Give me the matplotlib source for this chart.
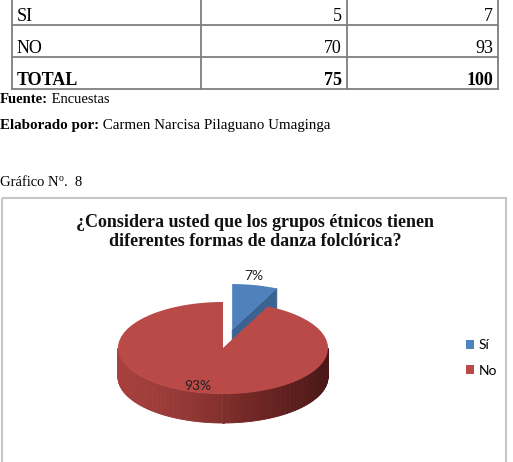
import numpy as np
import matplotlib.pyplot as plt
from matplotlib.patches import Polygon, Rectangle
from matplotlib.colors import LinearSegmentedColormap

# Datos de la tabla y del grafico
categorias = ['SI', 'NO', 'TOTAL']
frecuencia = [5, 70, 75]
porcentaje = [7, 93, 100]
leyenda = ['Sí', 'No']
valores = [7, 93]
titulo = '¿Considera usted que los grupos étnicos tienen\ndiferentes formas de danza folclórica?'

W, H = 513, 462
serif = 'Liberation Serif'
sans = 'Lato'

fig = plt.figure(figsize=(W / 100, H / 100), dpi=100)
bg = fig.add_axes([0, 0, 1, 1])
bg.set_xlim(0, W)
bg.set_ylim(H, 0)
bg.axis('off')
rend = fig.canvas.get_renderer()


def texto_partes(x, y, partes, **kw):
    # escribe varios trozos seguidos (negrita, normal, superindice)
    for txt, extra in partes:
        extra = dict(extra)
        dy = extra.pop('dy', 0)
        opts = {**kw, **extra}
        t = bg.text(x, y - dy, txt, **opts)
        x += t.get_window_extent(renderer=rend).width


# --- tabla (cortada arriba) ---
col_x = [12, 201, 347, 498]
fila_y = [-5, 25, 57, 89]
gris = '#7f7f7f'
for xv in col_x:
    bg.plot([xv, xv], [fila_y[0], fila_y[-1]], color=gris, lw=1.3)
for yv in fila_y[1:]:
    bg.plot([col_x[0], col_x[-1]], [yv, yv], color=gris, lw=1.3)

for i, (cat, f, p) in enumerate(zip(categorias, frecuencia, porcentaje)):
    yb = fila_y[i + 1] - 4
    w = 'bold' if cat == 'TOTAL' else 'normal'
    bg.text(17, yb, cat, family=serif, fontsize=13, weight=w, va='baseline')
    bg.text(col_x[2] - 5, yb, str(f), family=serif, fontsize=13, weight=w,
            va='baseline', ha='right')
    bg.text(col_x[3] - 5, yb, str(p), family=serif, fontsize=13, weight=w,
            va='baseline', ha='right')

texto_partes(0, 103, [('Fuente:', {'weight': 'bold'}), (' Encuestas', {})],
             family=serif, fontsize=10.5, va='baseline')
texto_partes(0, 129, [('Elaborado por:', {'weight': 'bold'}),
                      (' Carmen Narcisa Pilaguano Umaginga', {})],
             family=serif, fontsize=10.8, va='baseline')
texto_partes(0, 186, [('Gráfico N', {}), ('o', {'fontsize': 7, 'dy': 5}),
                      ('.  8', {})],
             family=serif, fontsize=10.5, va='baseline')

# --- marco del grafico ---
bg.add_patch(Rectangle((2, 198), 504, 280, fill=False, ec='#c6c6c6', lw=1.5))
bg.text(255, 232, titulo, ha='center', va='center', family=serif,
        fontsize=13, weight='bold', linespacing=1.1, color='#111111')

# --- pastel 3D ---
cx, cy = 223, 348
rx, ry = 105, 46
prof = 29 / ry
pax = fig.add_axes([(cx - 2 * rx) / W, (H - cy - 2 * ry) / H, 4 * rx / W, 4 * ry / H])
colores = ['#4F81BD', '#BA4A47']
explode = [0.4, 0]
wedges, _ = pax.pie(valores, colors=colores, startangle=90, counterclock=False,
                    explode=explode, wedgeprops={'linewidth': 0})
pax.set_aspect('auto')
pax.set_xlim(-2, 2)
pax.set_ylim(-2, 2)
pax.axis('off')

fr = np.array(valores) / sum(valores)
fin = 90 - 360 * np.cumsum(fr)
ini = np.r_[90, fin[:-1]]
medio = np.radians((ini + fin) / 2)

# cara de corte azul
bx, by = explode[0] * np.cos(medio[0]), explode[0] * np.sin(medio[0])
te = np.radians(fin[0])
pax.add_patch(Polygon([[bx, by], [bx + np.cos(te), by + np.sin(te)],
                       [bx + np.cos(te), by + np.sin(te) - prof], [bx, by - prof]],
                      closed=True, fc='#3A6392', ec='#3A6392', lw=0.5, zorder=0.4))
wedges[0].set_zorder(0.45)

# lado rojo con degradado
cmap = LinearSegmentedColormap.from_list('lado', ['#A8413E', '#933835', '#6E2523', '#4A1817'])
ang = np.linspace(np.pi, 2 * np.pi, 160)
for a0, a1 in zip(ang[:-1], ang[1:]):
    c = cmap((np.cos((a0 + a1) / 2) + 1) / 2)
    pax.add_patch(Polygon([[np.cos(a0), np.sin(a0)], [np.cos(a1), np.sin(a1)],
                           [np.cos(a1), np.sin(a1) - prof], [np.cos(a0), np.sin(a0) - prof]],
                          closed=True, fc=c, ec=c, lw=0.6, zorder=0.6))
wedges[1].set_zorder(1)

# etiquetas
dist = [1.2, 0.84]
for i, v in enumerate(valores):
    ox = explode[i] * np.cos(medio[i])
    oy = explode[i] * np.sin(medio[i])
    pax.text(ox + dist[i] * np.cos(medio[i]) - 0.06, oy + dist[i] * np.sin(medio[i]),
             f'{v}%', ha='center', va='center', family=sans, fontsize=10,
             color='#222222', zorder=5)

leg = pax.legend(wedges, leyenda, loc='center left', bbox_to_anchor=(453, 358),
                 bbox_transform=bg.transData, frameon=False, handlelength=0.6,
                 handleheight=0.6, handletextpad=0.35, labelspacing=0.95,
                 prop={'family': sans, 'size': 10})

fig.savefig('out.png', dpi=100)
